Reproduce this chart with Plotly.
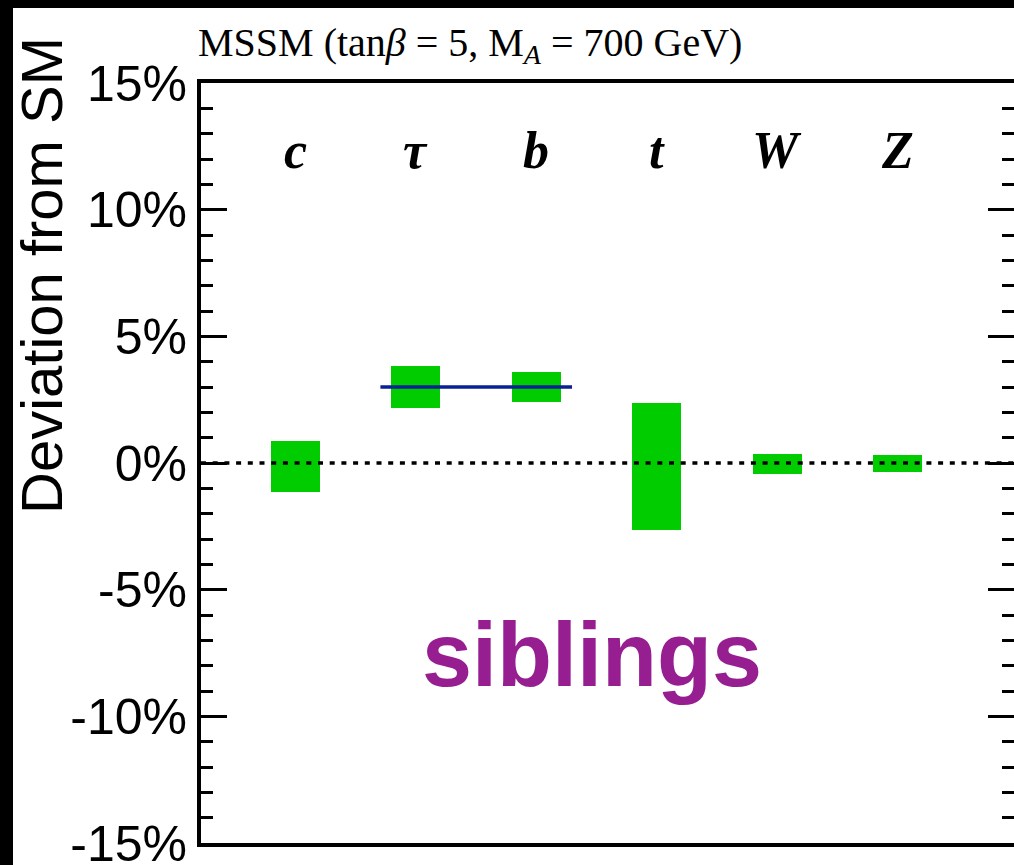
import plotly.graph_objects as go

# ---------------- data ----------------
categories = ["c", "τ", "b", "t", "W", "Z"]
cat_pos = [1, 2, 3, 4, 5, 6]
band_high = [0.85, 3.83, 3.60, 2.38, 0.37, 0.33]
band_low = [-1.16, 2.18, 2.42, -2.65, -0.44, -0.36]
mssm_x = [1.705, 3.295]
mssm_y = [3.0, 3.0]
ytick_vals = [-15, -10, -5, 0, 5, 10, 15]
ytick_text = ["-15%", "-10%", "-5%", "0%", "5%", "10%", "15%"]

W, H = 1014, 865
ML, MR, MT, MB = 201, 0, 83, 22
PW, PH = W - ML - MR, H - MT - MB


def px_x(px):
    return (px - ML) / PW


def px_y(py):
    return (H - MB - py) / PH


fig = go.Figure()

fig.add_trace(go.Bar(
    x=cat_pos,
    y=[h - l for h, l in zip(band_high, band_low)],
    base=band_low,
    width=0.407,
    marker=dict(color="#00CC00", line=dict(width=0)),
    showlegend=False,
    hoverinfo="skip",
))

fig.add_trace(go.Scatter(
    x=mssm_x, y=mssm_y, mode="lines",
    line=dict(color="#0A2196", width=3.5),
    showlegend=False, hoverinfo="skip",
))

# zero reference line
fig.add_shape(type="line", xref="paper", yref="y", x0=0, x1=1, y0=0, y1=0,
              line=dict(color="black", width=3.5, dash="5px,6.7px"), layer="above")

# black frame strips of the original picture
fig.add_shape(type="rect", xref="paper", yref="paper",
              x0=px_x(-5), x1=px_x(13), y0=px_y(H + 5), y1=px_y(-5),
              fillcolor="black", line=dict(width=0), layer="above")
fig.add_shape(type="rect", xref="paper", yref="paper",
              x0=px_x(-5), x1=px_x(W + 5), y0=px_y(8), y1=px_y(-5),
              fillcolor="black", line=dict(width=0), layer="above")

annotations = []
for name, xp in zip(categories, cat_pos):
    annotations.append(dict(
        x=xp, xref="x", y=px_y(150), yref="paper",
        text=f"<b><i>{name}</i></b>", showarrow=False,
        font=dict(family="Liberation Serif", size=52, color="black"),
        xanchor="center", yanchor="middle",
    ))

annotations.append(dict(
    x=px_x(196), xref="paper", y=px_y(45), yref="paper",
    text="MSSM (tan<i>β</i> = 5, M<sub><i>A</i></sub> = 700 GeV)",
    showarrow=False, xanchor="left", yanchor="middle",
    font=dict(family="Liberation Serif", size=40, color="black"),
))

annotations.append(dict(
    x=px_x(41), xref="paper", y=px_y(276), yref="paper",
    text="Deviation from SM", textangle=-90, showarrow=False,
    xanchor="center", yanchor="middle",
    font=dict(family="Liberation Sans", size=58, color="black"),
))

annotations.append(dict(
    x=px_x(592), xref="paper", y=px_y(655), yref="paper",
    text="<b>siblings</b>", showarrow=False,
    xanchor="center", yanchor="middle",
    font=dict(family="Liberation Sans", size=90, color="#961E90"),
))

fig.update_layout(
    width=W, height=H,
    margin=dict(l=ML, r=MR, t=MT, b=MB, pad=0, autoexpand=False),
    paper_bgcolor="white", plot_bgcolor="white",
    annotations=annotations,
    xaxis=dict(
        range=[0.216, 0.216 + PW / 120.5],
        showgrid=False, zeroline=False, showticklabels=False, ticks="",
        showline=True, linecolor="black", linewidth=4, mirror=True,
        fixedrange=True, automargin=False,
    ),
    yaxis=dict(
        range=[-15, 15],
        tickvals=ytick_vals, ticktext=ytick_text,
        ticks="inside", ticklen=26, tickwidth=3, tickcolor="black",
        minor=dict(dtick=1, ticks="inside", ticklen=12, tickwidth=3, tickcolor="black", showgrid=False),
        tickfont=dict(family="Liberation Sans", size=50, color="black"),
        ticklabeloverflow="allow",
        showgrid=False, zeroline=False,
        showline=True, linecolor="black", linewidth=4, mirror="allticks",
        fixedrange=True, automargin=False,
    ),
    bargap=0,
)

fig.write_html("out.html")
